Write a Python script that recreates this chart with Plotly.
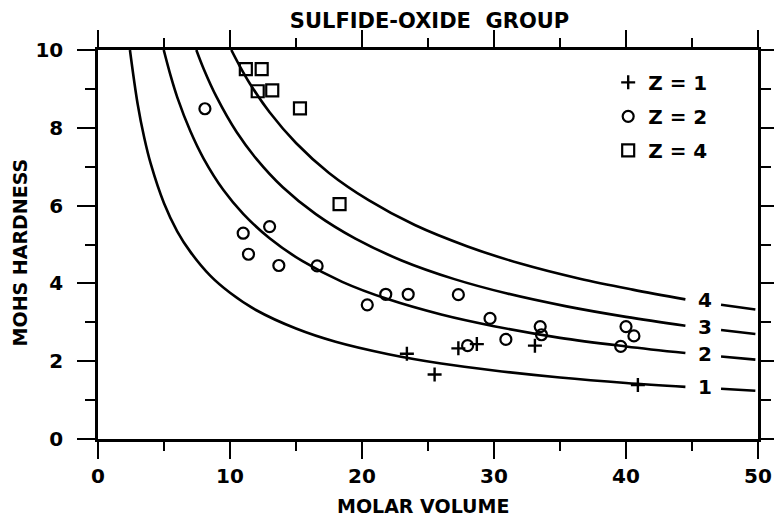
import plotly.graph_objects as go

# Mohs hardness vs molar volume, sulfide-oxide group
# Measured minerals, grouped by Z
z1_volume = [23.4, 25.5, 27.3, 28.7, 33.1, 40.9]
z1_hardness = [2.19, 1.66, 2.33, 2.44, 2.40, 1.39]

z2_volume = [8.1, 11.0, 11.4, 13.0, 13.7, 16.6, 20.4, 21.8, 23.5, 27.3, 28.0,
             29.7, 30.9, 33.5, 33.6, 39.6, 40.0, 40.6]
z2_hardness = [8.49, 5.29, 4.75, 5.46, 4.46, 4.45, 3.45, 3.72, 3.72, 3.71, 2.40,
               3.10, 2.56, 2.89, 2.68, 2.38, 2.89, 2.65]

z4_volume = [11.2, 12.4, 12.1, 13.2, 15.3, 18.3]
z4_hardness = [9.51, 9.51, 8.94, 8.96, 8.50, 6.04]

# Reference curves 1-4 (main run, then short run past the label)
curve_volume = {
    "1": [2.42, 3.0, 3.5, 4.0, 5.0, 6.0, 7.0, 8.5, 10, 12, 15, 18, 22, 26, 30, 35, 40, 44.5],
    "2": [4.98, 5.5, 6.0, 7.0, 8.0, 9.5, 11, 13, 15.5, 18.5, 22, 26, 30, 35, 40, 44.5],
    "3": [7.45, 8.0, 9.0, 10.5, 12, 14, 16.5, 19.5, 23, 27, 31, 35.5, 40, 44.5],
    "4": [10.1, 10.7, 11.5, 13, 15, 17.5, 20.5, 24, 28, 32, 36.5, 40.5, 44.5],
}
curve_hardness = {
    "1": [10, 8.62, 7.75, 7.07, 6.06, 5.34, 4.81, 4.20, 3.76, 3.31, 2.84, 2.50, 2.18, 1.94, 1.76, 1.58, 1.44, 1.34],
    "2": [10, 9.34, 8.79, 7.91, 7.21, 6.40, 5.79, 5.16, 4.57, 4.04, 3.59, 3.20, 2.90, 2.60, 2.38, 2.21],
    "3": [10, 9.52, 8.78, 7.89, 7.20, 6.47, 5.78, 5.15, 4.59, 4.11, 3.74, 3.41, 3.14, 2.91],
    "4": [10, 9.61, 9.14, 8.40, 7.61, 6.84, 6.14, 5.50, 4.95, 4.51, 4.12, 3.84, 3.59],
}
tail_volume = [47.2, 49.8]
tail_hardness = {
    "1": [1.29, 1.24],
    "2": [2.12, 2.04],
    "3": [2.80, 2.70],
    "4": [3.45, 3.33],
}
label_volume = 46.0
label_hardness = {"1": 1.33, "2": 2.18, "3": 2.87, "4": 3.58}

FONT = "DejaVu Sans"
INK = "black"


def lettering(size):
    return dict(family=FONT, size=size, color=INK, weight="bold")


fig = go.Figure()

for key in ["1", "2", "3", "4"]:
    fig.add_trace(go.Scatter(
        x=curve_volume[key], y=curve_hardness[key], mode="lines",
        line=dict(color=INK, width=2.6, shape="spline", smoothing=1.0),
        showlegend=False, hoverinfo="skip"))
    fig.add_trace(go.Scatter(
        x=tail_volume, y=tail_hardness[key], mode="lines",
        line=dict(color=INK, width=2.6),
        showlegend=False, hoverinfo="skip"))
    fig.add_annotation(x=label_volume, y=label_hardness[key], text=key,
                       showarrow=False, font=lettering(20),
                       xanchor="center", yanchor="middle")

fig.add_trace(go.Scatter(
    x=z1_volume, y=z1_hardness, mode="markers", name="Z = 1", legendgroup="z1",
    marker=dict(symbol="cross-thin-open", size=10, color=INK, line=dict(color=INK, width=2.4))))
fig.add_trace(go.Scatter(
    x=z2_volume, y=z2_hardness, mode="markers", name="Z = 2", legendgroup="z2",
    marker=dict(symbol="circle-open", size=11, color=INK, line=dict(color=INK, width=2.2))))
fig.add_trace(go.Scatter(
    x=z4_volume, y=z4_hardness, mode="markers", name="Z = 4", legendgroup="z4",
    marker=dict(symbol="square-open", size=12, color=INK, line=dict(color=INK, width=2.2))))

axis_common = dict(
    showgrid=False, zeroline=False, showline=True, linecolor=INK, linewidth=2.5,
    mirror="allticks", ticks="outside", tickcolor=INK, tickwidth=2,
    tickfont=lettering(20), automargin=False,
)

fig.update_xaxes(
    range=[0, 50], dtick=10, tick0=0, ticklen=17,
    minor=dict(dtick=5, ticks="outside", ticklen=9, tickcolor=INK, tickwidth=2),
    **axis_common)
fig.update_yaxes(
    range=[0, 10], dtick=2, tick0=0, ticklen=18, ticklabelstandoff=10,
    minor=dict(dtick=1, ticks="outside", ticklen=10, tickcolor=INK, tickwidth=2),
    **axis_common)

# Axis titles
fig.add_annotation(text="MOLAR VOLUME", xref="paper", yref="paper", x=0.493, y=-0.171,
                   showarrow=False, font=lettering(19), xanchor="center", yanchor="middle")
fig.add_annotation(text="MOHS HARDNESS", xref="paper", yref="paper", x=-0.118, y=0.48,
                   textangle=-90, showarrow=False, font=lettering(19),
                   xanchor="center", yanchor="middle")

fig.update_layout(
    width=774, height=518,
    margin=dict(l=98, r=16, t=50, b=79),
    paper_bgcolor="white", plot_bgcolor="white",
    title=dict(text="SULFIDE-OXIDE  GROUP", x=0.555, xanchor="center", y=0.961, yanchor="middle",
               font=lettering(21)),
    legend=dict(x=0.773, y=0.967, xanchor="left", yanchor="top",
                font=lettering(20), traceorder="grouped",
                bgcolor="rgba(0,0,0,0)", itemwidth=30, tracegroupgap=5),
)

fig.write_html("out.html")
